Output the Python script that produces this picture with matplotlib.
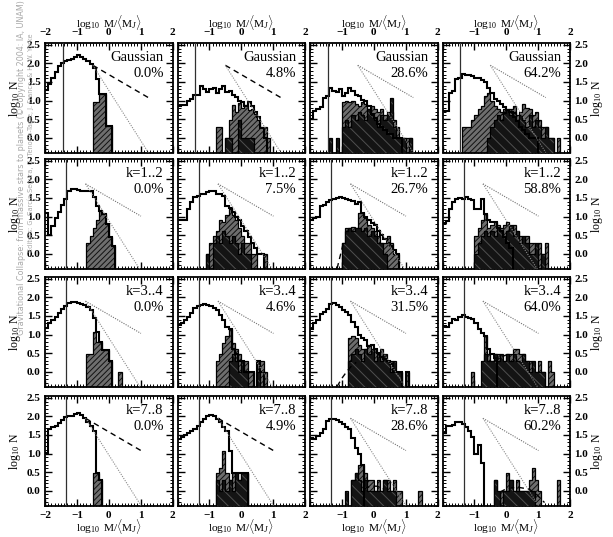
import numpy as np
import matplotlib
matplotlib.use('Agg')
import matplotlib.pyplot as plt
from matplotlib.ticker import MultipleLocator, FixedLocator, FuncFormatter

N = np.nan
BIN = 0.1
X0 = -2.0
FLOOR = -1.0

row_labels = ['Gaussian', 'k=1..2', 'k=3..4', 'k=7..8']
percents = [[0.0, 4.8, 28.6, 64.2],
            [0.0, 7.5, 26.7, 58.8],
            [0.0, 4.6, 31.5, 64.0],
            [0.0, 4.9, 28.6, 60.2]]
mark_x = [-1.45, -1.33, -1.33, -1.33]
ref_x0 = [-0.5, -0.73, -0.73, -0.73]
ref_y0 = [1.95, 1.88, 1.90, 1.95]
ref_span = 1.74
ref_slopes = [-0.5, -1.35]
dashed_panels = [(0, 0), (0, 1), (3, 0), (3, 1)]
x_ticks = [-2, -1, 0, 1, 2]
y_ticks = [0.0, 0.5, 1.0, 1.5, 2.0, 2.5]

# ---- total histograms (log10 N), bins of 0.1 starting at -2.0 ----
step_11 = [1.28, 1.44, 1.62, 1.78, 1.92, 2.02, 2.06, 2.08, 2.12, 2.18, 2.22, 2.17, 2.12, 2.06, 1.98, 1.88, 1.58, 1.17, 1.17, 0.32, 0.32]
step_12 = [0.85, 0.88, 0.88, 1.0, 1.05, 1.15, 1.15, 1.38, 1.32, 1.22, 1.30, 1.35, 1.20, 1.30, 1.38, 1.22, 1.25, 1.15, 1.10, 1.00, 0.95, 0.85, 0.95, 0.85, 0.70, 0.55, 0.25, 0.0]
step_13 = [0.5, 0.72, 0.78, 0.82, 1.08, 1.12, 1.35, 1.25, 1.22, 1.32, 1.12, 1.2, 1.35, 1.25, 1.15, 1.12, 1.02, 0.98, 0.84, 0.65, 0.52, 0.38, 0.3, 0.2, 0.1, 0.1, 0.0, 0.0, 0.0]
step_14 = [0.72, 0.72, 1.2, 1.25, 1.58, 1.62, 1.72, 1.7, 1.68, 1.65, 1.62, 1.6, 1.55, 1.5, 1.35, 1.2, 1.05, 0.98, 0.92, 0.82, 0.75, 0.68, 0.55, 0.45, 0.3, 0.2, 0.1, 0.0, 0.0, 0.0]
step_21 = [1.1, 0.5, 0.75, 0.95, 1.12, 1.32, 1.48, 1.68, 1.74, 1.73, 1.72, 1.7, 1.68, 1.68, 1.7, 1.52, 1.28, 1.15, 1.06, 0.79, 0.45, 0.2]
step_22 = [0.92, 0.92, 0.9, 1.2, 1.38, 1.52, 1.55, 1.6, 1.62, 1.65, 1.68, 1.68, 1.62, 1.6, 1.55, 1.28, 1.22, 1.12, 1.0, 0.9, 0.75, 0.6, 0.45, 0.3, 0.15, 0.0, 0.0]
step_23 = [0.92, 0.95, 0.98, 1.28, 1.32, 1.38, 1.45, 1.48, 1.5, 1.52, 1.5, 1.48, 1.45, 1.42, 1.35, 1.38, 1.1, 1.0, 0.92, 0.82, 0.78, 0.6, 0.5, 0.4, 0.3, 0.2, 0.1, 0.0]
step_24 = [0.83, 0.87, 1.2, 1.38, 1.48, 1.5, 1.48, 1.52, 1.48, 1.45, 1.2, 1.2, 1.47, 1.06, 0.92, 0.85, 0.85, 0.7, 0.6, 0.45, 0.3, 0.15]
step_31 = [1.18, 1.3, 1.38, 1.48, 1.57, 1.7, 1.76, 1.85, 1.88, 1.88, 1.86, 1.83, 1.79, 1.73, 1.65, 1.45, 1.07, 0.8, 0.58, 0.58, 0.3]
step_32 = [1.25, 1.3, 1.38, 1.47, 1.58, 1.72, 1.78, 1.8, 1.82, 1.8, 1.78, 1.72, 1.65, 1.52, 1.38, 1.2, 1.16, 0.6, 0.48, 0.3, 0.3, 0.0, 0.0, 0.0, N, 0.3, 0.0]
step_33 = [1.16, 1.3, 1.38, 1.55, 1.6, 1.7, 1.83, 1.86, 1.8, 1.75, 1.67, 1.6, 1.52, 1.35, 1.2, 1.0, 0.92, 0.85, 0.7, 0.72, 0.6, 0.5, 0.4, 0.35, 0.3, 0.2, 0.0, 0.0, 0.0, N, 0.0]
step_34 = [1.24, 1.2, 1.3, 1.42, 1.4, 1.48, 1.52, 1.48, 1.45, 1.42, 1.3, 1.16, 1.03, 0.95, 0.6, 0.48, 0.36]
step_41 = [1.02, 1.65, 1.72, 1.75, 1.82, 1.9, 1.98, 2.0, 2.02, 2.06, 2.09, 2.05, 1.95, 1.85, 1.75, 1.6, 0.48, 0.3]
step_42 = [1.39, 1.45, 1.5, 1.55, 1.6, 1.65, 1.75, 1.85, 1.92, 2.0, 2.05, 2.0, 1.92, 1.85, 1.72, 1.6, 1.07, 0.48, 0.48, 0.48, 0.48, 0.48]
step_43 = [1.43, 1.39, 1.47, 1.55, 1.65, 1.88, 1.92, 1.94, 1.9, 1.85, 1.8, 1.72, 1.65, 1.43, 1.16, 0.98, 0.7]
step_44 = [1.55, 1.75, 1.75, 1.78, 1.84, 1.84, 1.8, 1.72, 1.6, 1.45, 1.0, 1.22, 0.75]

# ---- hatched (gray) histograms: start of first bin, values ----
gray_x0_11, gray_11 = -0.5, [0.97, 0.97, 1.17, 1.17, 0.32, 0.32]
gray_x0_12, gray_12 = -0.8, [0.3, 0.3, N, 0.0, 0.48, 0.88, 0.70, 0.93, 0.80, 0.88, 0.75, 0.78, 0.65, 0.48, 0.3, 0.3, 0.0]
gray_x0_13, gray_13 = -1.0, [0.95, 1.0, 0.95, 1.0, 0.9, 0.85, 0.95, 0.9, 0.78, 0.85, 0.78, 0.7, 0.78, 0.6, 0.7, 0.7, 0.48, 0.3, 0.0, 0.0, 0.0, 0.0]
gray_x0_14, gray_14 = -1.4, [0.3, 0.3, 0.3, 0.48, 0.6, 0.78, 0.85, 1.12, 1.2, 1.0, 0.85, 0.78, 0.7, 0.78, 0.6, 0.78, 0.85, 0.6, 0.7, 0.9, 0.8, 0.78, 0.6, 0.7, 0.48, 0.3, 0.3, 0.0, 0.0, N, 0.0]
gray_x0_21, gray_21 = -0.7, [0.3, 0.48, 0.7, 0.9, 1.15, 1.06, 0.79, 0.45, 0.2]
gray_x0_22, gray_22 = -1.1, [0.0, 0.3, 0.48, 0.6, 0.9, 0.85, 1.04, 1.2, 1.04, 0.9, 0.7, 0.48, 0.3, 0.3, 0.0, 0.0, N, N, 0.0]
gray_x0_23, gray_23 = -1.0, [0.3, 0.7, 0.7, 0.72, 0.7, 1.1, 1.1, 0.95, 0.78, 0.7, 0.6, 0.48, 0.3, 0.3, 0.48, 0.3, 0.0, 0.0]
gray_x0_24, gray_24 = -1.0, [0.48, 0.7, 0.9, 1.06, 0.7, 0.78, 0.85, 0.78, 0.7, 0.78, 0.85, 0.7, 0.78, 0.6, 0.48, 0.3, 0.48, 0.3, 0.3, 0.0, 0.3, 0.0, 0.3]
gray_x0_31, gray_31 = -0.7, [0.48, 0.48, 1.07, 0.8, 0.8, 0.58, 0.58, 0.3, N, N, 0.0]
gray_x0_32, gray_32 = -0.8, [0.3, 0.48, 0.78, 0.95, 1.16, 0.78, 0.6, 0.48, 0.3, 0.3, 0.0, 0.0, N, 0.3, 0.3, 0.0]
gray_x0_33, gray_33 = -0.8, [0.92, 0.95, 0.92, 0.72, 0.6, 0.6, 0.72, 0.6, 0.6, 0.48, 0.6, 0.3, 0.3, 0.3, 0.0, 0.0, 0.0, N, 0.0]
gray_x0_34, gray_34 = -1.1, [0.0, N, N, N, 0.95, 0.48, 0.3, 0.48, 0.48, 0.3, 0.3, 0.48, 0.48, 0.6, 0.6, 0.48, 0.48, 0.3, 0.3, 0.0, 0.0, 0.3, 0.0, N, 0.3, 0.0]
gray_x0_41, gray_41 = -0.5, [0.48, 0.48, 0.3]
gray_x0_42, gray_42 = -0.8, [0.48, 0.6, 1.07, 0.48, 0.3, 0.48, 0.48, 0.3, 0.48, 0.48]
gray_x0_43, gray_43 = -0.7, [0.3, 0.48, 0.7, 0.7, 0.48, 0.3, 0.3, 0.0, 0.3, 0.0, 0.3, 0.3, 0.0, 0.3, 0.0, 0.0, N, N, N, N, N, 0.0]
gray_x0_44, gray_44 = -0.5, [N, 0.3, N, 0.0, 0.0, 0.48, 0.3, 0.0, 0.3, 0.0, 0.0, 0.0, 0.3, 0.6, 0.3, 0.0, N, N, N, N, N, 0.3]

# ---- black histograms ----
black_x0_12, black_12 = -0.5, [0.0, 0.0, N, N, 0.48, 0.0, 0.0, 0.0, 0.0]
black_x0_13, black_13 = -1.4, [0.0, N, 0.0, N, 0.3, 0.48, 0.3, 0.6, 0.48, 0.7, 0.6, 0.48, 0.78, 0.6, 0.48, 0.3, 0.6, 0.48, 0.6, 1.08, 0.3, 0.0, 0.0, 0.0, N, 0.0]
black_x0_14, black_14 = -0.6, [0.0, 0.3, 0.48, 0.6, 0.48, 0.7, 0.78, 0.6, 0.7, 0.48, 0.6, 0.48, 0.3, 0.6, 0.3, 0.48, 0.3, 0.0, 0.3, 0.0, 0.0]
black_x0_22, black_22 = -1.1, [0.0, N, 0.3, 0.48, 0.3, 0.6, 0.48, 0.3, 0.48, 0.3, 0.0, 0.3, 0.0, 0.0]
black_x0_23, black_23 = -1.0, [0.3, 0.6, 0.7, 0.6, 0.7, 0.7, 0.6, 0.7, 0.48, 0.6, 0.48, 0.3, 0.3, 0.0]
black_x0_24, black_24 = -1.0, [0.0, 0.3, 0.48, 0.6, 0.48, 0.6, 0.48, 0.7, 0.6, 0.48, 0.6, 0.78, 0.48, 0.6, 0.3, 0.48, 0.3, 0.0, 0.0, 0.3, N, 0.0]
black_x0_32, black_32 = -0.4, [0.3, 0.48, 0.3, 0.0, 0.3, 0.0, N, N, N, 0.0]
black_x0_33, black_33 = -0.8, [0.3, 0.48, 0.6, 0.48, 0.3, 0.6, 0.48, 0.6, 0.3, 0.48, 0.3, 0.48, 0.3, 0.0, 0.3, 0.0, 0.0]
black_x0_34, black_34 = -0.8, [0.3, 0.48, 0.3, 0.3, 0.48, 0.3, 0.48, 0.3, 0.48, 0.3, 0.48, 0.3, 0.3, 0.48, 0.3, 0.0, 0.3, 0.0, 0.0, 0.0]
black_x0_42, black_42 = -0.8, [0.3, 0.0, 0.3, 0.0, 0.3, 0.0, 0.48, 0.3, 0.48, 0.48]
black_x0_43, black_43 = -0.9, [0.0, N, 0.3, 0.48, 0.3, 0.0, 0.3, 0.0, 0.0, 0.0, 0.0, 0.0, 0.3, 0.0, 0.0, 0.0]
black_x0_44, black_44 = -0.4, [0.3, 0.0, N, 0.0, 0.0, 0.3, 0.0, 0.0, 0.0, 0.0, 0.0, 0.0, 0.0]

# ---- dashed fit curves ----
fit_x_14, fit_y_14 = [-0.15, 0.05, 0.3], [0.62, 0.67, 0.65]
fit_x_23, fit_y_23 = [-1.15, -1.05, -0.95], [-0.4, -0.05, 0.3]
fit_x_33, fit_y_33 = [-1.15, -1.0, -0.85, -0.7, -0.55], [-0.4, -0.18, 0.0, 0.15, 0.25]
fit_x_34, fit_y_34 = [-0.35, -0.15, 0.0], [0.28, 0.4, 0.45]
fit_x_43, fit_y_43 = [-0.3, -0.1, 0.1, 0.3], [0.05, 0.12, 0.12, 0.05]
fit_x_44, fit_y_44 = [-0.2, 0.0, 0.2, 0.45, 0.72, 0.95, 1.2], [-0.04, 0.05, 0.08, 0.08, 0.04, -0.1, -0.32]

steps = [[step_11, step_12, step_13, step_14], [step_21, step_22, step_23, step_24],
         [step_31, step_32, step_33, step_34], [step_41, step_42, step_43, step_44]]
grays = {(0, 0): (gray_x0_11, gray_11), (0, 1): (gray_x0_12, gray_12), (0, 2): (gray_x0_13, gray_13), (0, 3): (gray_x0_14, gray_14),
         (1, 0): (gray_x0_21, gray_21), (1, 1): (gray_x0_22, gray_22), (1, 2): (gray_x0_23, gray_23), (1, 3): (gray_x0_24, gray_24),
         (2, 0): (gray_x0_31, gray_31), (2, 1): (gray_x0_32, gray_32), (2, 2): (gray_x0_33, gray_33), (2, 3): (gray_x0_34, gray_34),
         (3, 0): (gray_x0_41, gray_41), (3, 1): (gray_x0_42, gray_42), (3, 2): (gray_x0_43, gray_43), (3, 3): (gray_x0_44, gray_44)}
blacks = {(0, 1): (black_x0_12, black_12), (0, 2): (black_x0_13, black_13), (0, 3): (black_x0_14, black_14),
          (1, 1): (black_x0_22, black_22), (1, 2): (black_x0_23, black_23), (1, 3): (black_x0_24, black_24),
          (2, 1): (black_x0_32, black_32), (2, 2): (black_x0_33, black_33), (2, 3): (black_x0_34, black_34),
          (3, 1): (black_x0_42, black_42), (3, 2): (black_x0_43, black_43), (3, 3): (black_x0_44, black_44)}
fits = {(0, 3): (fit_x_14, fit_y_14), (1, 2): (fit_x_23, fit_y_23), (2, 2): (fit_x_33, fit_y_33),
        (2, 3): (fit_x_34, fit_y_34), (3, 2): (fit_x_43, fit_y_43), (3, 3): (fit_x_44, fit_y_44)}

plt.rcParams['font.family'] = ['Liberation Serif', 'DejaVu Serif']
plt.rcParams['mathtext.fontset'] = 'custom'
plt.rcParams['mathtext.rm'] = 'Liberation Serif'
plt.rcParams['mathtext.it'] = 'Liberation Serif:italic'
plt.rcParams['hatch.linewidth'] = 0.7

W, H = 613, 537
fig = plt.figure(figsize=(W / 100, H / 100), dpi=100)

col_left = [45, 177.5, 310, 442.5]
col_w = 127.5
row_top = [43, 159, 277, 396]
row_h = 109.5


def draw_bars(ax, x0, vals, face, hcol, hatch, z):
    v = np.array(vals, float)
    edges = x0 + BIN * np.arange(len(v) + 1)
    ok = ~np.isnan(v)
    ax.bar(edges[:-1][ok], v[ok] - FLOOR, bottom=FLOOR, width=BIN, align='edge',
           color=face, edgecolor=hcol, hatch=hatch, linewidth=0, zorder=z)
    vv = np.concatenate([[FLOOR], np.where(ok, v, FLOOR), [FLOOR]])
    ee = np.concatenate([[edges[0] - BIN], edges, [edges[-1] + BIN]])
    ax.stairs(vv, ee, baseline=None, color='k', lw=0.9, zorder=z + 0.1)


xlab = r'$\log_{10}$ M/$\langle$M$_J\rangle$'
ylab = r'$\log_{10}$ N'

for r in range(4):
    for c in range(4):
        ax = fig.add_axes([col_left[c] / W, 1 - (row_top[r] + row_h) / H, col_w / W, row_h / H])
        ax.set_xlim(-2, 2)
        ax.set_ylim(-0.4, 2.55)
        if (r, c) in grays:
            gx0, gv = grays[(r, c)]
            draw_bars(ax, gx0, gv, '#6e6e6e', '#111111', '//////', 2)
        if (r, c) in blacks:
            bx0, bv = blacks[(r, c)]
            draw_bars(ax, bx0, bv, '#141414', '#505050', '\\\\\\', 3)
        sv = np.array(steps[r][c], float)
        sv = np.append(np.where(np.isnan(sv), FLOOR, sv), FLOOR)
        se = X0 + BIN * np.arange(len(sv) + 1)
        ax.stairs(sv, se, baseline=None, color='k', lw=1.5, zorder=4)
        ax.axvline(mark_x[r], color='#303030', lw=0.9, zorder=5)
        xs = np.array([ref_x0[r], ref_x0[r] + ref_span])
        if (r, c) in dashed_panels:
            ax.plot(xs, ref_y0[r] + ref_slopes[0] * (xs - xs[0]), color='k', lw=1.0, ls=(0, (4, 3)), zorder=5)
        else:
            ax.plot(xs, ref_y0[r] + ref_slopes[0] * (xs - xs[0]), color='#707070', lw=0.8, ls=(0, (1, 1.2)), zorder=5)
        ax.plot(xs, ref_y0[r] + ref_slopes[1] * (xs - xs[0]), color='#8a8a8a', lw=0.8, ls=(0, (1, 1.2)), zorder=5)
        if (r, c) in fits:
            fx, fy = fits[(r, c)]
            ax.plot(fx, fy, color='k', lw=1.0, ls=(0, (4, 3)), zorder=6)
        ax.text(0.93, 0.865, row_labels[r], transform=ax.transAxes, ha='right', va='center', fontsize=10.5)
        ax.text(0.93, 0.72, f'{percents[r][c]:.1f}%', transform=ax.transAxes, ha='right', va='center', fontsize=10.5)

        ax.xaxis.set_major_locator(FixedLocator(x_ticks))
        ax.xaxis.set_minor_locator(MultipleLocator(0.1))
        ax.yaxis.set_major_locator(FixedLocator(y_ticks))
        ax.yaxis.set_minor_locator(MultipleLocator(0.1))
        first = c == 0
        ax.xaxis.set_major_formatter(FuncFormatter(
            lambda v, p, first=first: ('' if (v == -2 and not first) else f'{int(v)}'.replace('-', '\u2212'))))
        ax.yaxis.set_major_formatter(FuncFormatter(lambda v, p: f'{v:.1f}'))
        ax.tick_params(which='both', direction='in', top=True, bottom=True, left=True, right=True,
                       labeltop=(r == 0), labelbottom=(r == 3), labelleft=(c == 0), labelright=(c == 3),
                       labelsize=8)
        ax.tick_params(axis='x', which='major', pad=4)
        ax.tick_params(axis='y', which='major', pad=3)
        ax.tick_params(which='major', length=5, width=1.0)
        ax.tick_params(which='minor', length=2, width=0.7)
        for lbl in ax.get_xticklabels() + ax.get_yticklabels():
            lbl.set_fontweight('bold')
        for sp in ax.spines.values():
            sp.set_linewidth(1.3)

for c in range(4):
    cx = (col_left[c] + col_w / 2) / W
    fig.text(cx, 1 - 22 / H, xlab, ha='center', va='center', fontsize=8.2)
    fig.text(cx, 1 - 526.5 / H, xlab, ha='center', va='center', fontsize=8.2)
for r in range(4):
    cy = 1 - (row_top[r] + row_h / 2) / H
    fig.text(15 / W, cy, ylab, ha='center', va='center', rotation=90, fontsize=8.5)
    fig.text(597 / W, cy, ylab, ha='center', va='center', rotation=90, fontsize=8.5)

# watermark lines, fitted to the span they cover in the reference
wm_lines = ['Gravitational Collapse: from massive stars to planets (\u00a9Copyright 2004: IA, UNAM)',
            'Editors: G. Garc\u00eda-Segura, G. Tenorio-Tagle, J. Franco, & H. W. Yorke']
wm_x = [22, 31]
wm_y0 = [335, 252]
wm_y1 = [1, 32]
renderer = fig.canvas.get_renderer()
for txt, x, y0, y1 in zip(wm_lines, wm_x, wm_y0, wm_y1):
    t = fig.text(x / W, 1 - y0 / H, txt, rotation=90, ha='center', va='bottom',
                 color='#a8a8a8', fontsize=6, family='DejaVu Sans')
    ext = t.get_window_extent(renderer)
    t.set_fontsize(6 * (y0 - y1) / ext.height)

fig.savefig('out.png', dpi=100)
